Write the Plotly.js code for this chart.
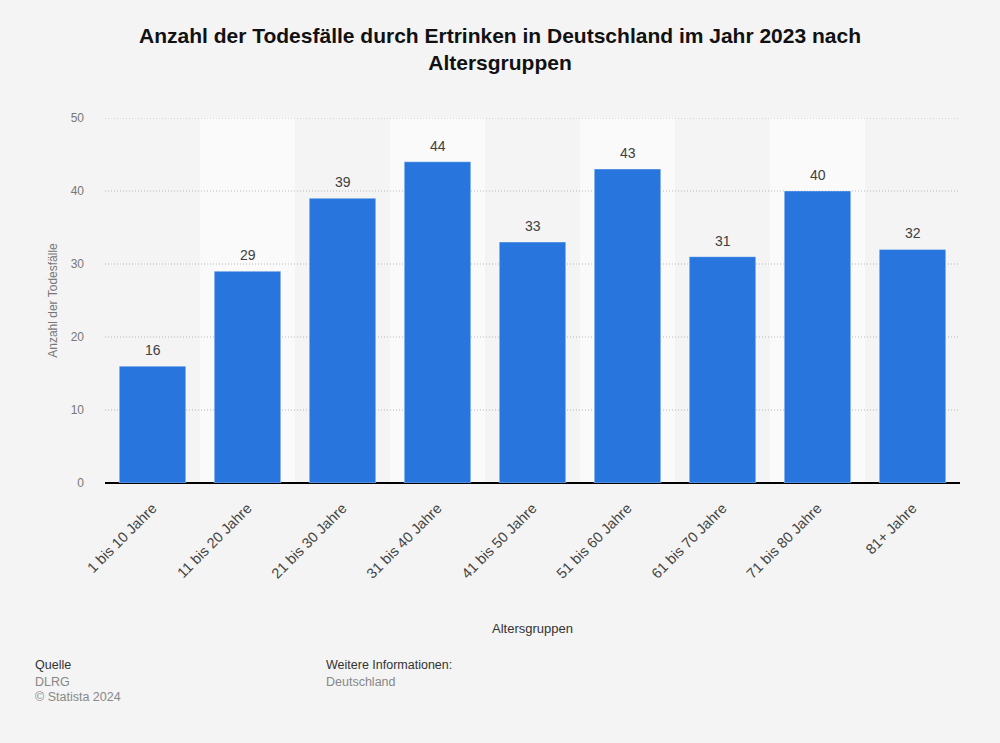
<!DOCTYPE html>
<html>
<head>
<meta charset="utf-8">
<script src="https://cdn.plot.ly/plotly-3.0.1.min.js"></script>
<style>html,body{margin:0;padding:0;background:#f4f4f4;}#chart{width:1000px;height:743px;}</style>
</head>
<body>
<div id="chart"></div>
<script>
const categories = ["1 bis 10 Jahre","11 bis 20 Jahre","21 bis 30 Jahre","31 bis 40 Jahre","41 bis 50 Jahre","51 bis 60 Jahre","61 bis 70 Jahre","71 bis 80 Jahre","81+ Jahre"];
const values = [16, 29, 39, 44, 33, 43, 31, 40, 32];
const yTicks = [0, 10, 20, 30, 40, 50];

const font = "Liberation Sans, Arial, sans-serif";

const shapes = [];
categories.forEach((c, i) => {
  if (i % 2 === 1) {
    shapes.push({type:'rect', xref:'x', yref:'paper', x0:i-0.5, x1:i+0.5, y0:0, y1:1,
      fillcolor:'#fafafa', line:{width:0}, layer:'below'});
  }
});
yTicks.filter(v => v > 0).forEach(v => {
  shapes.push({type:'line', xref:'paper', yref:'y', x0:0, x1:1, y0:v, y1:v,
    line:{color:'#b8b8b8', width:1, dash:'1px,2px'}, layer:'below'});
});

const trace = {
  type:'bar', x:categories, y:values,
  marker:{color:'#2876dd', line:{color:'rgba(255,255,255,0.35)', width:1}},
  width:0.7,
  hoverinfo:'x+y'
};

const labelAnn = categories.map((c, i) => ({
  x:c, y:values[i], xref:'x', yref:'y', text:String(values[i]), showarrow:false,
  yanchor:'bottom', yshift:6, font:{family:font, size:14, color:'#404040'}
}));

function px(xp, yp){ return {x:(xp-105)/(1000-105-40), y:(743-260-yp)/(743-118-260)}; }
const foot = [
  ['Quelle', 33, 665, '#333'],
  ['DLRG', 33, 682, '#888'],
  ['© Statista 2024', 33, 697, '#888'],
  ['Weitere Informationen:', 324, 665, '#333'],
  ['Deutschland', 324, 682, '#888']
];
const footAnn = foot.map(f => {
  const p = px(f[1], f[2]);
  return {text:f[0], x:p.x, y:p.y, xref:'paper', yref:'paper', xanchor:'left', yanchor:'middle',
    showarrow:false, font:{family:font, size:12.5, color:f[3]}};
});

const layout = {
  width:1000, height:743,
  paper_bgcolor:'#f4f4f4', plot_bgcolor:'#f4f4f4',
  margin:{l:105, r:40, t:118, b:260},
  font:{family:font},
  title:{text:'<b>Anzahl der Todesfälle durch Ertrinken in Deutschland im Jahr 2023 nach<br>Altersgruppen</b>',
    font:{family:font, size:21, color:'#111'}, x:0.5, xanchor:'center', y:1-43/743, yanchor:'middle', yref:'container'},
  bargap:0.3,
  xaxis:{type:'category', tickangle:-45, tickfont:{family:font, size:14.5, color:'#444'},
    showgrid:false, showline:false, zeroline:false, ticks:'', ticklabelstandoff:13,
    title:{text:'Altersgruppen', font:{family:font, size:13, color:'#333'}, standoff:43},
    automargin:false},
  yaxis:{range:[0,50], tickvals:yTicks, ticktext:yTicks.map(String), showgrid:false,
    zeroline:true, zerolinecolor:'#000', zerolinewidth:1.5,
    tickfont:{family:font, size:12, color:'#777'}, ticks:'', ticklabelstandoff:20,
    title:{text:'Anzahl der Todesfälle', font:{family:font, size:12, color:'#777'}, standoff:10},
    automargin:false},
  shapes:shapes,
  showlegend:false,
  annotations:labelAnn.concat(footAnn)
};

Plotly.newPlot('chart', [trace], layout, {displayModeBar:false, staticPlot:true});
</script>
</body>
</html>
